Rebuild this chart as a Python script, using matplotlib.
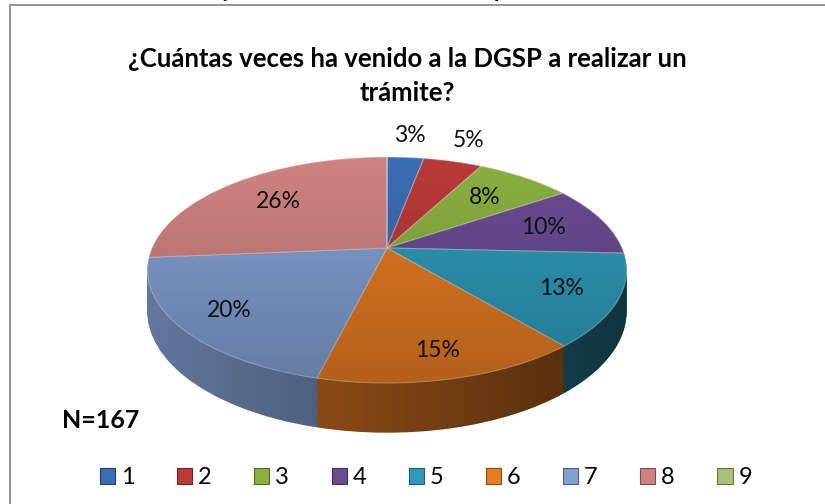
import numpy as np
import matplotlib
matplotlib.use("Agg")
import matplotlib.pyplot as plt
from matplotlib.transforms import Transform
from matplotlib.patches import Polygon, Patch, Rectangle
from matplotlib.colors import to_rgb

plt.rcParams['font.family'] = ['Lato', 'DejaVu Sans']

# data: number of visits -> respondents (N=167)
categories = ['1', '2', '3', '4', '5', '6', '7', '8', '9']
counts = [5, 8, 13, 17, 22, 25, 33, 44, 0]
colors = ['#3B6DB3', '#B83A38', '#8AB040', '#6A4C93', '#2E9AB8',
          '#E57B22', '#819FD1', '#CF8380', '#A8C07A']
title = '¿Cuántas veces ha venido a la DGSP a realizar un\ntrámite?'

# geometry of the tilted pie (pixels)
CX, CY = 387, 248
R, RK, P = 235, 108.7, 0.1947
DEPTH = 40


class Tilt(Transform):
    """perspective view of the unit disk, dropped by `drop` pixels"""
    input_dims = output_dims = 2

    def __init__(self, drop=0.0):
        super().__init__()
        self.drop = drop

    def transform_non_affine(self, pts):
        pts = np.asarray(pts, float)
        u, v = pts[:, 0], pts[:, 1]
        w = 1 + P * v
        return np.column_stack([CX + R * u / w, CY - (RK * v - self.drop) / w])


def shade(c, f):
    return tuple(np.array(to_rgb(c)) * f)


fig = plt.figure(figsize=(8.25, 5.04), dpi=100)
ax = fig.add_axes([0, 0, 1, 1])

# side wall: stack of darker pies
side_colors = [shade(c, 0.75) for c in colors]
for d in np.linspace(DEPTH, 1, 40):
    wedges, _ = ax.pie(counts, colors=side_colors, startangle=90, counterclock=False,
                       wedgeprops=dict(linewidth=0))
    tr = Tilt(d) + ax.transData
    for w in wedges:
        w.set_transform(tr)
        w.set_zorder(1)

# horizontal shading on the side wall
t = np.linspace(0, 2 * np.pi, 721)
circ = np.column_stack([np.cos(t), np.sin(t)])
top_xy = Tilt(0).transform(circ)
low_xy = Tilt(DEPTH).transform(circ)
outline = np.where((circ[:, 1] < -P)[:, None], low_xy, top_xy)
x0, x1 = outline[:, 0].min(), outline[:, 0].max()
y0, y1 = outline[:, 1].min(), outline[:, 1].max()

grad = np.zeros((2, 256, 4))
grad[..., 3] = np.linspace(0.0, 0.55, 256)
im = ax.imshow(grad, extent=(x0, x1, y1, y0), aspect='auto', zorder=1.5)
im.set_clip_path(Polygon(outline, closed=True, transform=ax.transData))

# top face
wedges, _ = ax.pie(counts, colors=colors, startangle=90, counterclock=False,
                   wedgeprops=dict(linewidth=0.8, edgecolor=(1, 1, 1, 0.35)))
tr = Tilt(0) + ax.transData
for w in wedges:
    w.set_transform(tr)
    w.set_zorder(2)

vgrad = np.zeros((256, 2, 4))
vgrad[..., 3] = np.linspace(0.0, 0.22, 256)[:, None]
im2 = ax.imshow(vgrad, extent=(x0, x1, top_xy[:, 1].max(), top_xy[:, 1].min()),
                aspect='auto', zorder=2.5)
im2.set_clip_path(Polygon(top_xy, closed=True, transform=ax.transData))

# percentage labels (inside, a bit further out toward the front; small ones outside)
total = sum(counts)
for w, c in zip(wedges, counts):
    if c == 0:
        continue
    pct = 100 * c / total
    mid = np.deg2rad((w.theta1 + w.theta2) / 2)
    r = 0.74 - 0.08 * np.sin(mid) if pct >= 6 else 1.3
    x, y = Tilt(0).transform([[r * np.cos(mid), r * np.sin(mid)]])[0]
    ax.text(x, y, f'{pct:.0f}%', ha='center', va='center', fontsize=16.5,
            color='#111111', zorder=5)

ax.set_xlim(0, 825)
ax.set_ylim(504, 0)
ax.set_aspect('auto')
ax.axis('off')

# frame (only left and top edges are inside the picture)
fig.patches.append(Rectangle((9.5 / 825, -0.1), 1.2, (1 - 5.5 / 504) + 0.1,
                             transform=fig.transFigure, fill=False,
                             edgecolor='#8c8c8c', linewidth=1.3))

# cut-off heading above the chart
fig.text(227 / 825, 1 + 3 / 504, 'y', fontsize=16, fontweight='bold',
         ha='center', va='baseline')
fig.text(500 / 825, 1 + 3 / 504, 'p', fontsize=16, fontweight='bold',
         ha='center', va='baseline')

fig.text(407 / 825, 1 - 76 / 504, title, fontsize=18.5, fontweight='bold',
         ha='center', va='center', linespacing=1.5)
fig.text(62 / 825, 1 - 420 / 504, f'N={total}', fontsize=18, fontweight='bold',
         ha='left', va='center')

handles = [Patch(facecolor=c, edgecolor=shade(c, 0.6), linewidth=0.8) for c in colors]
fig.legend(handles, categories, loc='center', bbox_to_anchor=(426 / 825, 1 - 478 / 504),
           ncol=9, frameon=False, fontsize=17, handlelength=0.64, handleheight=0.64,
           handletextpad=0.25, columnspacing=1.8)

fig.savefig('out.png', dpi=100)
